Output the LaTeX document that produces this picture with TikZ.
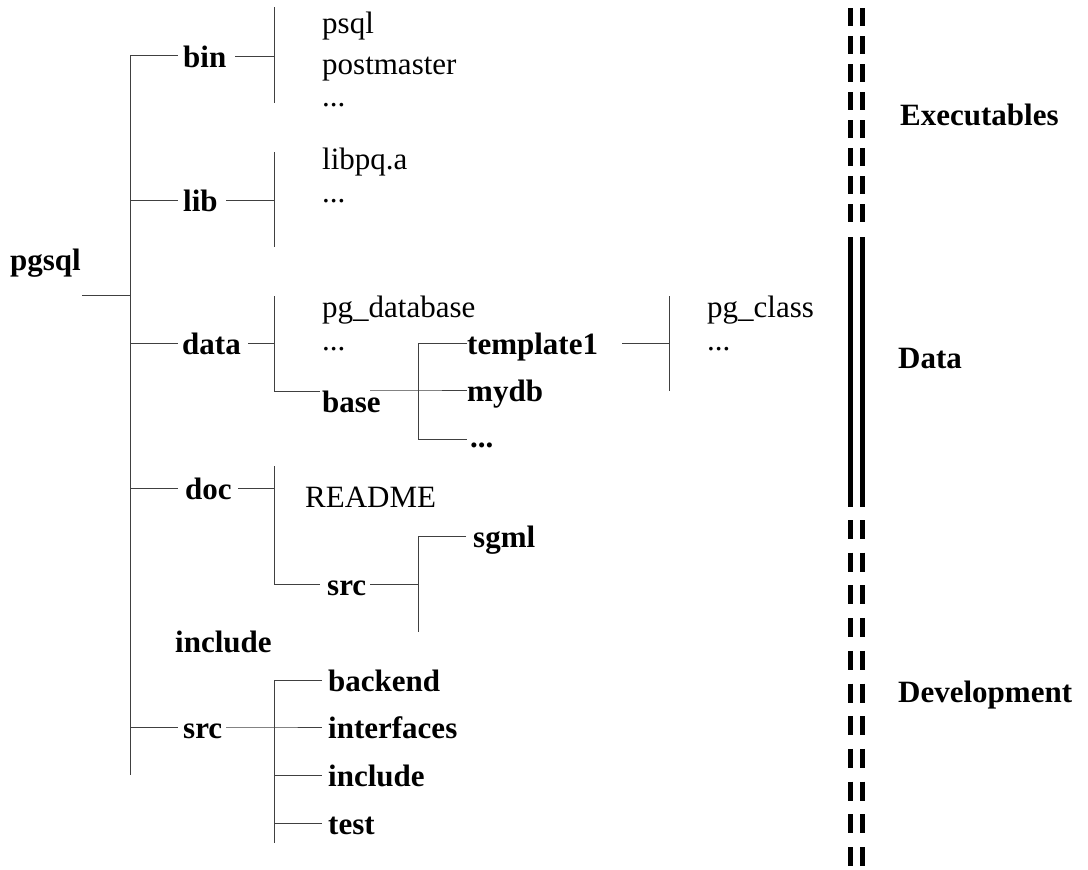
\documentclass[tikz,border=0pt]{standalone}
\usepackage{fontspec}
\setmainfont{Liberation Serif}
\usetikzlibrary{calc}
\tikzset{
	dir/.style={anchor=base west, inner sep=0pt, font=\fontsize{31}{36}\selectfont\bfseries},
	file/.style={anchor=base west, inner sep=0pt, font=\fontsize{31}{36}\selectfont},
	branch/.style={line width=0.9pt, color=black!75},
	bar/.style={line width=5pt, color=black}
}

\begin{document}
\begin{tikzpicture}[x=1pt, y=-1pt]
		%%%%% START %%%%%
		\useasboundingbox (0, 0) rectangle (1088, 870);
		
		% directories
		\node[dir] (pgsql) at (10, 270) {pgsql};
		\node[dir] (bin) at (183, 67) {bin};
		\node[dir] (lib) at (183, 211) {lib};
		\node[dir] (data) at (182, 354) {data};
		\node[dir] (base) at (322, 412) {base};
		\node[dir] (tmpl) at (467, 354) {template1};
		\node[dir] (mydb) at (467, 401) {mydb};
		\node[dir] (dbmore) at (470, 447) {...};
		\node[dir] (doc) at (185, 499) {doc};
		\node[dir] (docsrc) at (327, 595) {src};
		\node[dir] (sgml) at (473, 547) {sgml};
		\node[dir] (incl) at (175, 652) {include};
		\node[dir] (src) at (183, 738) {src};
		\node[dir] (backend) at (328, 691) {backend};
		\node[dir] (ifaces) at (328, 738) {interfaces};
		\node[dir] (srcincl) at (328, 786) {include};
		\node[dir] (test) at (328, 834) {test};
		
		% files
		\node[file] (psql) at (322, 33) {psql};
		\node[file] (pmaster) at (322, 74) {postmaster};
		\node[file] (binmore) at (322, 106) {...};
		\node[file] (libpq) at (322, 169) {libpq.a};
		\node[file] (libmore) at (322, 202) {...};
		\node[file] (pgdb) at (322, 317) {pg\_database};
		\node[file] (datamore) at (322, 350) {...};
		\node[file] (pgclass) at (707, 317) {pg\_class};
		\node[file] (tmplmore) at (707, 350) {...};
		\node[file] (readme) at (305, 507) {README};
		
		% junctions
		\coordinate (root) at (130, 295);
		\coordinate (roottop) at (130, 55);
		\coordinate (rootbot) at (130, 775);
		\coordinate (binv) at (274, 56);
		\coordinate (libv) at (274, 200);
		\coordinate (datav) at (274, 343);
		\coordinate (basev) at (418, 390);
		\coordinate (tmplv) at (669, 343);
		\coordinate (docv) at (274, 488);
		\coordinate (docsrcv) at (418, 584);
		\coordinate (srcv) at (274, 727);
		
		% tree
		\draw[branch] (82, 295) -- (root);
		\draw[branch] (roottop) -- (rootbot);
		\foreach \y in {55, 200, 343, 488, 727}
			\draw[branch] (130, \y) -- (178, \y);
		
		\draw[branch] (235, 56) -- (binv);
		\draw[branch] (274, 7) -- (274, 103);
		
		\draw[branch] (226, 200) -- (libv);
		\draw[branch] (274, 152) -- (274, 247);
		
		\draw[branch] (248, 343) -- (datav);
		\draw[branch] (274, 296) -- (274, 391) -- (320, 391);
		\draw[branch] (370, 390) -- (basev) -- (467, 390);
		\draw[branch] (467, 343) -- (418, 343) -- (418, 439) -- (467, 439);
		\draw[branch] (622, 343) -- (tmplv);
		\draw[branch] (669, 296) -- (669, 391);
		
		\draw[branch] (238, 488) -- (docv);
		\draw[branch] (274, 466) -- (274, 584) -- (320, 584);
		\draw[branch] (370, 584) -- (docsrcv);
		\draw[branch] (466, 536) -- (418, 536) -- (418, 632);
		
		\draw[branch] (226, 727) -- (srcv) -- (322, 727);
		\draw[branch] (322, 680) -- (274, 680) -- (274, 843);
		\draw[branch] (274, 775) -- (322, 775);
		\draw[branch] (274, 823) -- (322, 823);
		
		% separator bars
		\foreach \x in {850.5, 862.5} {
			\draw[bar, dash pattern=on 18pt off 10pt] (\x, 8) -- (\x, 224);
			\draw[bar] (\x, 237) -- (\x, 507);
			\draw[bar, dash pattern=on 19pt off 13.7pt] (\x, 520) -- (\x, 867);
		}
		
		\node[dir] (exe) at (900, 125) {Executables};
		\node[dir] (dat) at (898, 368) {Data};
		\node[dir] (dev) at (898, 702) {Development};
		
		%%%%% END %%%%%
	\end{tikzpicture}
\end{document}
